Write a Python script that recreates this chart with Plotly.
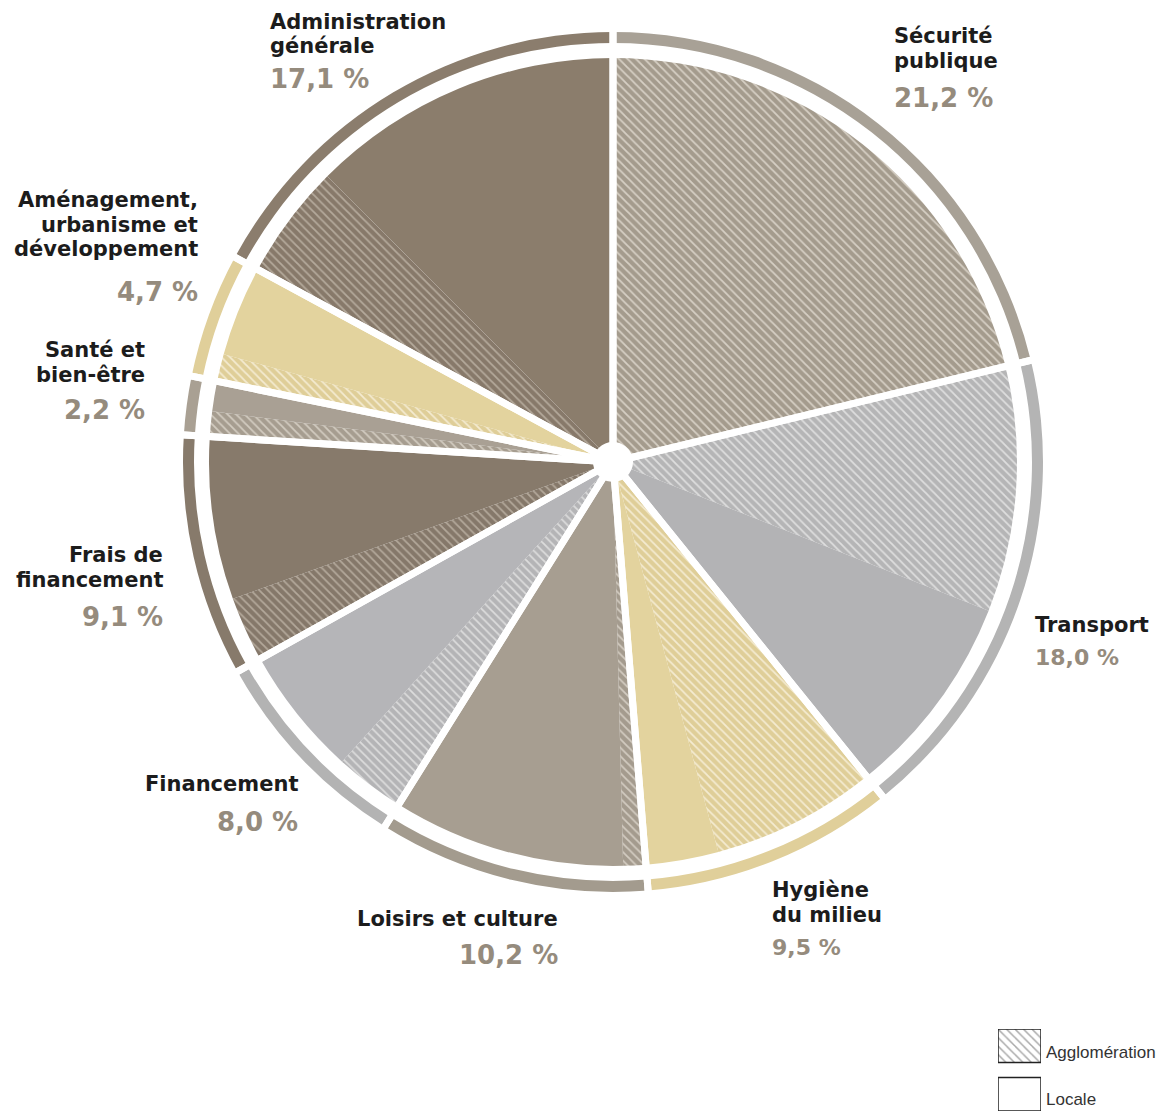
import plotly.graph_objects as go

# ---- data -------------------------------------------------------------
categories = [
    "Sécurité publique", "Transport", "Hygiène du milieu", "Loisirs et culture",
    "Financement", "Frais de financement", "Santé et bien-être",
    "Aménagement, urbanisme et développement", "Administration générale",
]
totals = [21.2, 18.0, 9.5, 10.2, 8.0, 9.1, 2.2, 4.7, 17.1]          # % of budget
agglomeration = [21.2, 9.8, 6.6, 0.9, 2.8, 2.6, 1.0, 1.1, 4.6]    # agglomeration share
locale = [round(t - a, 1) for t, a in zip(totals, agglomeration)]  # local share
pct_labels = ["21,2 %", "18,0 %", "9,5 %", "10,2 %", "8,0 %", "9,1 %", "2,2 %", "4,7 %", "17,1 %"]

# ---- styles -----------------------------------------------------------
W, H = 1169, 1112
CX, CY = 613, 462
plain_colors = ["#a79e91", "#b3b3b5", "#e3d39e", "#a79e91", "#b5b5b8",
                "#877a6b", "#a9a094", "#e3d39e", "#8b7d6c"]
hatch_bg = ["#a49b8d", "#b5b5b6", "#dfce98", "#a49b8e", "#b4b4b6",
            "#85786a", "#a69d90", "#dfce98", "#87796a"]
hatch_fg = ["#d6cfc4", "#dedede", "#f4ebd1", "#d2cbc0", "#dcdcdc",
            "#b3a89a", "#d2cbc0", "#f4ebd1", "#b4a99b"]
ring_colors = ["#a8a196", "#b4b4b4", "#e0cf9a", "#a39b8e", "#b3b3b3",
               "#877a6b", "#a9a093", "#e0cf9a", "#8b7d6d"]
pct_color = "#958b7d"
name_color = "#1c1c1c"
FONT = "DejaVu Sans"


def domain(r):
    return dict(x=[(CX - r) / W, (CX + r) / W],
                y=[(H - CY - r) / H, (H - CY + r) / H])


# ---- build slices: agglomeration first, then local, clockwise ----------
vals, labs, cols, shapes, fgs, bgs = [], [], [], [], [], []
for i, cat in enumerate(categories):
    if agglomeration[i] > 0:
        vals.append(agglomeration[i]); labs.append(cat + " – Agglomération")
        cols.append(hatch_bg[i]); shapes.append("\\"); fgs.append(hatch_fg[i]); bgs.append(hatch_bg[i])
    if locale[i] > 0:
        vals.append(locale[i]); labs.append(cat + " – Locale")
        cols.append(plain_colors[i]); shapes.append(""); fgs.append(plain_colors[i]); bgs.append(plain_colors[i])

R_PIE = 404
R_RING_OUT, R_RING_IN = 430, 419

fig = go.Figure()

# main pie with agglomeration / local split
fig.add_trace(go.Pie(
    values=vals, labels=labs, sort=False, direction="clockwise", rotation=0,
    hole=20 / R_PIE, domain=domain(R_PIE), textinfo="none", hoverinfo="label+value",
    marker=dict(colors=cols, line=dict(width=0),
                pattern=dict(shape=shapes, fgcolor=fgs, bgcolor=bgs, size=6, solidity=0.3)),
    showlegend=False,
))

# outer ring, one arc per category
fig.add_trace(go.Pie(
    values=totals, labels=categories, sort=False, direction="clockwise", rotation=0,
    hole=R_RING_IN / R_RING_OUT, domain=domain(R_RING_OUT), textinfo="none",
    hoverinfo="skip", marker=dict(colors=ring_colors, line=dict(width=0)),
    showlegend=False,
))

# white separators between categories (across pie and ring)
fig.add_trace(go.Pie(
    values=totals, labels=[c + " " for c in categories], sort=False,
    direction="clockwise", rotation=0, hole=0, domain=domain(445), textinfo="none",
    hoverinfo="skip", marker=dict(colors=["rgba(0,0,0,0)"] * len(totals),
                                  line=dict(color="white", width=7)),
    showlegend=False,
))

# ---- category labels ----------------------------------------------------
# (x px, anchor, name lines, top of first line px, top of percent px, percent size)
label_layout = [
    (892, "left", ["Sécurité", "publique"], 26, 86, 26),
    (1033, "left", ["Transport"], 615, 648, 22),
    (770, "left", ["Hygiène", "du milieu"], 880, 938, 22),
    (560, "right", ["Loisirs et culture"], 909, 943, 26),
    (300, "right", ["Financement"], 774, 810, 26),
    (165, "right", ["Frais de", "financement"], 545, 605, 26),
    (147, "right", ["Santé et", "bien-être"], 340, 398, 26),
    (200, "right", ["Aménagement,", "urbanisme et", "développement"], 190, 280, 26),
    (268, "left", ["Administration", "générale"], 12, 67, 26),
]
PITCH = 24.5
annotations = []
for (x, anchor, lines, top, ptop, psize), pct in zip(label_layout, pct_labels):
    for k, line in enumerate(lines):
        annotations.append(dict(
            x=x / W, y=1 - (top - 4 + k * PITCH) / H, xref="paper", yref="paper",
            xanchor=anchor, yanchor="top", showarrow=False, text=line,
            font=dict(family=FONT, size=21, color=name_color, weight="bold")))
    annotations.append(dict(
        x=x / W, y=1 - (ptop - 5) / H, xref="paper", yref="paper",
        xanchor=anchor, yanchor="top", showarrow=False, text=pct,
        font=dict(family=FONT, size=psize, color=pct_color, weight="bold")))

# ---- legend swatches ----------------------------------------------------
legend_names = ["Agglomération", "Locale"]
fig.add_trace(go.Bar(
    x=[0.5], y=[1], base=[1.45], width=[1], xaxis="x2", yaxis="y2",
    marker=dict(color="white", line=dict(color="#222222", width=1.5),
                pattern=dict(shape="\\", fgcolor="#555555", bgcolor="white", size=6, solidity=0.25)),
    showlegend=False, hoverinfo="skip"))
fig.add_trace(go.Bar(
    x=[0.5], y=[1], base=[0], width=[1], xaxis="x2", yaxis="y2",
    marker=dict(color="white", line=dict(color="#222222", width=1.5)),
    showlegend=False, hoverinfo="skip"))
for name, ytop in zip(legend_names, [1041, 1088]):
    annotations.append(dict(
        x=1044 / W, y=1 - ytop / H, xref="paper", yref="paper", xanchor="left",
        yanchor="top", showarrow=False, text=name,
        font=dict(family="Liberation Sans", size=17, color="#333333")))

fig.update_layout(
    width=W, height=H, margin=dict(l=0, r=0, t=0, b=0),
    paper_bgcolor="white", plot_bgcolor="white", showlegend=False,
    barmode="overlay", annotations=annotations,
    xaxis2=dict(domain=[998 / W, 1041 / W], range=[0, 1], visible=False, fixedrange=True),
    yaxis2=dict(domain=[(H - 1111) / H, (H - 1029) / H], range=[0, 2.45],
                visible=False, fixedrange=True),
)

fig.write_html("out.html")
